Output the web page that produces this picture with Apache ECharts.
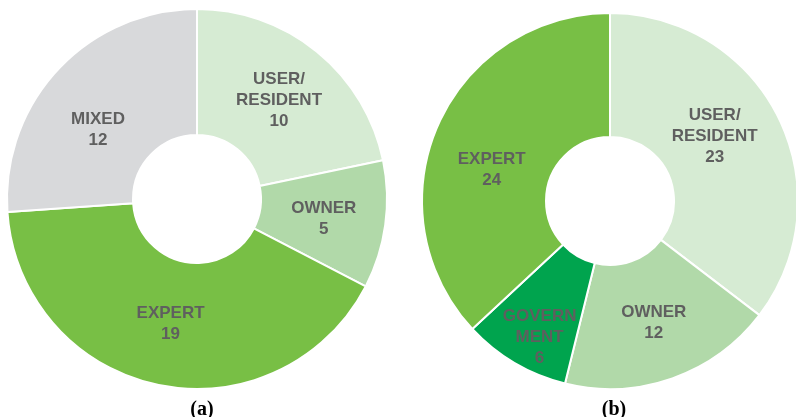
<!DOCTYPE html>
<html><head><meta charset="utf-8">
<script src="https://cdn.jsdelivr.net/npm/echarts@6/dist/echarts.min.js"></script>
<style>html,body{margin:0;padding:0;background:#fff}#c{width:796px;height:417px}</style>
</head><body><div id="c"></div>
<script>
const catsA = ['USER/\nRESIDENT', 'OWNER', 'EXPERT', 'MIXED'];
const valsA = [10, 5, 19, 12];
const colsA = ['#d6ebd3', '#b1d9a9', '#78bf45', '#d8d9db'];
const catsB = ['USER/\nRESIDENT', 'OWNER', 'GOVERN\nMENT', 'EXPERT'];
const valsB = [23, 12, 6, 24];
const colsB = ['#d6ebd3', '#b1d9a9', '#00a44e', '#78bf45'];
const captions = ['(a)', '(b)'];

// label nudges to mimic the original label placement
const nudgeA = [[0,2],[-2,2],[0,-2],[-4,20]];
const nudgeB = [[-11,-8],[1,0],[-5,25],[0,20]];

function mk(cats, vals, cols, nudge){
  return cats.map((c,i)=>({name:c, value:vals[i], itemStyle:{color:cols[i]}, label:{offset:nudge[i]}}));
}
const labelStyle = {
  show:true, position:'inside', formatter:'{b}\n{c}',
  color:'#5f5f5f', fontFamily:"'Liberation Sans'", fontWeight:'bold',
  fontSize:17, lineHeight:21
};
const capStyle = {fontFamily:"'Liberation Serif'", fontWeight:'bold', fontSize:20, color:'#000'};
const chart = echarts.init(document.getElementById('c'), null, {renderer:'canvas'});
chart.setOption({
  animation:false,
  title:[
    {text:captions[0], left:197, top:395, textAlign:'center', textStyle:capStyle},
    {text:captions[1], left:609, top:395, textAlign:'center', textStyle:capStyle}
  ],
  series:[
    {type:'pie', center:[197,199], radius:[64,190], startAngle:90, clockwise:true,
     itemStyle:{borderColor:'#fff', borderWidth:2}, label:labelStyle, labelLine:{show:false},
     emphasis:{disabled:true}, data:mk(catsA, valsA, colsA, nudgeA)},
    {type:'pie', center:[610,201], radius:[64,188], startAngle:90, clockwise:true,
     itemStyle:{borderColor:'#fff', borderWidth:2}, label:labelStyle, labelLine:{show:false},
     emphasis:{disabled:true}, data:mk(catsB, valsB, colsB, nudgeB)}
  ]
});
</script></body></html>
